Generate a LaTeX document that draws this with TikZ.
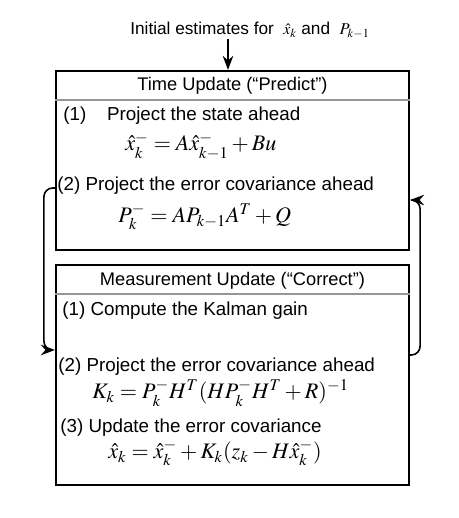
\documentclass[tikz,border=0pt]{standalone}
\usepackage{mathptmx}
\usepackage[no-math]{fontspec}
\setmainfont{Liberation Sans}
\usepackage{tikz}
\usetikzlibrary{arrows.meta, positioning}
\definecolor{sepgray}{RGB}{150,150,150}
\tikzset{
  stagebox/.style={rectangle, draw=black, line width=1.3pt, inner sep=0pt,
    minimum width=7.06cm},
  hdrtext/.style={font=\fontsize{10.4}{12}\selectfont, inner sep=0pt},
  steptext/.style={anchor=west, font=\fontsize{10.7}{12}\selectfont, inner sep=0pt},
  eqn/.style={anchor=west, font=\fontsize{12.6}{15}\selectfont, inner sep=0pt},
  arrow/.style={-{Stealth[length=8pt,width=6pt]}, line width=0.9pt, rounded corners=5pt},
  sepline/.style={color=sepgray, line width=0.6pt}
}

\begin{document}
\begin{tikzpicture}[x=0.02cm, y=-0.02cm]
  \useasboundingbox (0,0) rectangle (458,518);

  % Boxes
  \node[stagebox, minimum height=3.58cm] (tu) at (232.5,160.5) {};
  \node[stagebox, minimum height=4.40cm] (mu) at (232.5,375) {};

  % Initial estimates
  \node[hdrtext, font=\fontsize{9.8}{12}\selectfont, anchor=west] (init) at (130,30)
    {Initial estimates for\ \ \fontsize{9}{11}\selectfont$\hat{x}_k$ \fontsize{9.8}{12}\selectfont and\ \ \fontsize{9.4}{11}\selectfont$P_{k-1}$};
  \draw[arrow] (228,39) -- (tu.north -| 228,0);

  % Time update
  \node[hdrtext] (tutitle) at (232.5,86) {Time Update (“Predict”)};
  \draw[sepline] (tu.west |- 0,100) -- (tu.east |- 0,100);
  \node[steptext] (tu1) at (63,116) {(1)\hspace{1.1em}Project the state ahead};
  \node[eqn] (tueq1) at (125,146) {$\hat{x}_k^- = A\hat{x}_{k-1}^- + Bu$};
  \node[steptext] (tu2) at (57,186) {(2) Project the error covariance ahead};
  \node[eqn] (tueq2) at (118,217) {$P_k^- = AP_{k-1}A^T + Q$};

  % Measurement update
  \node[hdrtext] (mutitle) at (232.5,281) {Measurement Update (“Correct”)};
  \draw[sepline] (mu.west |- 0,294) -- (mu.east |- 0,294);
  \node[steptext] (mu1) at (62,311) {(1) Compute the Kalman gain};
  \node[steptext] (mu2) at (58,367) {(2) Project the error covariance ahead};
  \node[eqn] (mueq1) at (92,393) {$K_k = P_k^- H^T (HP_k^- H^T + R)^{-1}$};
  \node[steptext] (mu3) at (60,428) {(3) Update the error covariance};
  \node[eqn] (mueq2) at (108,453) {$\hat{x}_k = \hat{x}_k^- + K_k(z_k - H\hat{x}_k^-)$};

  % Loops
  \draw[arrow] (tu.west |- 0,188) -- ++(-11,0) |- (mu.west |- 0,350);
  \draw[arrow] (mu.east |- 0,355) -- ++(10,0) |- (tu.east |- 0,200);
\end{tikzpicture}
\end{document}
